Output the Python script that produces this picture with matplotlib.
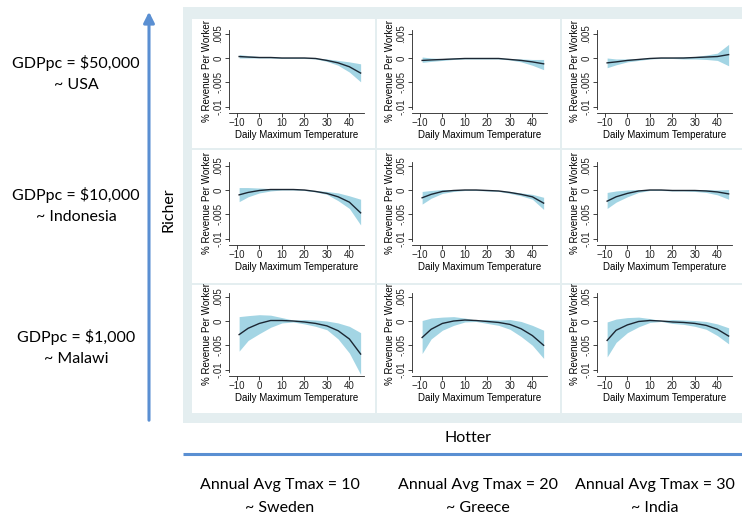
import matplotlib
matplotlib.use("Agg")
import matplotlib.pyplot as plt
from matplotlib.patches import Rectangle

W, H = 742, 514

# daily max temperature grid (deg C) for the fitted response curves
temp = [-9, -5, 0, 5, 10, 15, 20, 25, 30, 35, 40, 45]

# GDPpc $50,000 row
fit_50k_t10 = [.0003, .0002, .0001, .0001, 0, 0, 0, -.0001, -.0005, -.001, -.0018, -.0031]
hi_50k_t10 = [.0007, .0005, .0003, .0002, .0001, .0001, .0001, 0, -.0002, -.0005, -.0008, -.0012]
lo_50k_t10 = [0, 0, 0, 0, -.0001, -.0001, -.0001, -.0002, -.0007, -.0015, -.0029, -.0049]

fit_50k_t20 = [-.0005, -.0004, -.0003, -.0002, -.0001, -.0001, -.0001, -.0001, -.0003, -.0005, -.0008, -.0012]
hi_50k_t20 = [.0002, 0, -.0001, 0, 0, 0, 0, 0, -.0001, -.0002, -.0003, -.0003]
lo_50k_t20 = [-.0009, -.0007, -.0005, -.0003, -.0002, -.0002, -.0002, -.0002, -.0004, -.0008, -.0015, -.0024]

fit_50k_t30 = [-.001, -.0008, -.0005, -.0003, -.0001, 0, 0, 0, .0001, .0002, .0003, .0007]
hi_50k_t30 = [0, -.0002, -.0002, -.0001, 0, .0001, .0001, .0002, .0003, .0006, .001, .0028]
lo_50k_t30 = [-.002, -.0014, -.0008, -.0005, -.0002, -.0001, -.0001, -.0002, -.0002, -.0003, -.0005, -.0016]

# GDPpc $10,000 row
fit_10k_t10 = [-.001, -.0005, -.0001, .0001, .0001, .0001, 0, -.0003, -.0007, -.0014, -.0025, -.0047]
hi_10k_t10 = [.0005, .0005, .0004, .0003, .0002, .0001, .0001, -.0001, -.0003, -.0006, -.0012, -.0019]
lo_10k_t10 = [-.0024, -.0014, -.0006, -.0002, 0, 0, -.0001, -.0004, -.0009, -.0022, -.0038, -.0072]

fit_10k_t20 = [-.0016, -.0009, -.0003, -.0001, 0, 0, -.0001, -.0002, -.0005, -.0009, -.0014, -.0027]
hi_10k_t20 = [-.0003, -.0001, .0001, .0001, .0001, .0001, 0, -.0001, -.0003, -.0006, -.0009, -.0015]
lo_10k_t20 = [-.0029, -.0017, -.0007, -.0003, -.0001, -.0001, -.0002, -.0003, -.0007, -.0012, -.0019, -.004]

fit_10k_t30 = [-.0023, -.0014, -.0007, -.0002, 0, 0, -.0001, -.0001, -.0001, -.0002, -.0004, -.0008]
hi_10k_t30 = [-.0005, -.0002, 0, .0001, .0001, .0001, 0, 0, .0001, .0001, 0, .0001]
lo_10k_t30 = [-.0038, -.0025, -.0014, -.0005, -.0001, -.0001, -.0002, -.0002, -.0003, -.0005, -.001, -.0019]

# GDPpc $1,000 row
fit_1k_t10 = [-.0028, -.0015, -.0005, .0001, .0001, 0, -.0002, -.0005, -.001, -.002, -.0037, -.0068]
hi_1k_t10 = [.0009, .0011, .0013, .0012, .0007, .0002, .0003, .0002, 0, -.0004, -.0011, -.0024]
lo_1k_t10 = [-.0062, -.004, -.0026, -.0013, -.0004, -.0002, -.0006, -.0011, -.0018, -.0037, -.0066, -.011]

fit_1k_t20 = [-.0034, -.0017, -.0005, 0, .0002, .0001, -.0001, -.0003, -.0007, -.0016, -.003, -.005]
hi_1k_t20 = [.0001, .0006, .0008, .0009, .0006, .0002, .0003, .0002, .0003, -.0001, -.0009, -.0019]
lo_1k_t20 = [-.0067, -.0037, -.0019, -.0009, -.0002, -.0001, -.0005, -.0009, -.0017, -.0032, -.005, -.0077]

fit_1k_t30 = [-.004, -.0019, -.0008, -.0001, .0001, 0, -.0002, -.0003, -.0005, -.0009, -.0017, -.0031]
hi_1k_t30 = [-.0002, .0004, .0007, .0008, .0005, .0001, .0003, .0002, .0001, -.0001, -.0006, -.0014]
lo_1k_t30 = [-.0074, -.0044, -.0024, -.0012, -.0003, -.0001, -.0005, -.0007, -.0011, -.0017, -.003, -.0047]

gdp_levels = ["GDPpc = $50,000", "GDPpc = $10,000", "GDPpc = $1,000"]
gdp_countries = ["~ USA", "~ Indonesia", "~ Malawi"]
tmax_levels = ["Annual Avg Tmax = 10", "Annual Avg Tmax = 20", "Annual Avg Tmax = 30"]
tmax_countries = ["~ Sweden", "~ Greece", "~ India"]

xticks = [-10, 0, 10, 20, 30, 40]
yticks = [-.01, -.005, 0, .005]
ytick_labels = ["-.01", "-.005", "0", ".005"]

grid = [
    [(fit_50k_t10, lo_50k_t10, hi_50k_t10), (fit_50k_t20, lo_50k_t20, hi_50k_t20), (fit_50k_t30, lo_50k_t30, hi_50k_t30)],
    [(fit_10k_t10, lo_10k_t10, hi_10k_t10), (fit_10k_t20, lo_10k_t20, hi_10k_t20), (fit_10k_t30, lo_10k_t30, hi_10k_t30)],
    [(fit_1k_t10, lo_1k_t10, hi_1k_t10), (fit_1k_t20, lo_1k_t20, hi_1k_t20), (fit_1k_t30, lo_1k_t30, hi_1k_t30)],
]

ARROW_BLUE = "#5a8fd2"
BAND = "#a3d5e4"
LINE = "#1c2733"
BG = "#e4eef0"

fig = plt.figure(figsize=(W / 100, H / 100), dpi=100)

# full-figure canvas in pixel units for the backdrop, arrows and slide text
canvas = fig.add_axes([0, 0, 1, 1])
canvas.set_xlim(0, W)
canvas.set_ylim(H, 0)
canvas.axis("off")

canvas.add_patch(Rectangle((183, 7), W - 183, 416, facecolor=BG, edgecolor="none"))
col_edges = [(192, 375), (377, 560), (562, W + 5)]
row_edges = [(19, 148), (150, 283), (285, 413)]
for y0, y1 in row_edges:
    for x0, x1 in col_edges:
        canvas.add_patch(Rectangle((x0, y0), x1 - x0, y1 - y0, facecolor="white", edgecolor="none"))

canvas.annotate("", xy=(149, 9), xytext=(149, 423),
                arrowprops=dict(arrowstyle="-|>", color=ARROW_BLUE, lw=2.2, mutation_scale=16))
canvas.plot([183, W], [454, 454], color=ARROW_BLUE, lw=2.2, solid_capstyle="butt")

slide_font = "Lato"
for i, (lvl, ctry) in enumerate(zip(gdp_levels, gdp_countries)):
    y = [63, 195, 337][i]
    canvas.text(76, y, lvl, ha="center", va="center", fontsize=11.5, family=slide_font)
    canvas.text(76, y + 22, ctry, ha="center", va="center", fontsize=11.5, family=slide_font)
canvas.text(168, 210, "Richer", rotation=90, ha="center", va="center", fontsize=11.5, family=slide_font)
canvas.text(468, 438, "Hotter", ha="center", va="center", fontsize=11.5, family=slide_font)
for i, (lvl, ctry) in enumerate(zip(tmax_levels, tmax_countries)):
    x = [280, 478, 655][i]
    canvas.text(x, 485, lvl, ha="center", va="center", fontsize=11.5, family=slide_font)
    canvas.text(x, 508, ctry, ha="center", va="center", fontsize=11.5, family=slide_font)

# stata-style response panels
plt.rcParams["font.family"] = ["Liberation Sans", "DejaVu Sans"]
axes_left = [229, 412, 597]
zero_y = [58, 190, 321]
px_per_unit = 24.3 / 0.005
ymin, ymax = -0.0113, 0.0058
xmin, xmax = -13.5, 46.5
ax_w = 135
ax_h = (ymax - ymin) * px_per_unit

for r in range(3):
    for c in range(3):
        fit, lo, hi = grid[r][c]
        top = zero_y[r] - ymax * px_per_unit
        ax = fig.add_axes([axes_left[c] / W, (H - top - ax_h) / H, ax_w / W, ax_h / H])
        ax.set_facecolor("none")
        ax.fill_between(temp, lo, hi, color=BAND, lw=0)
        ax.plot(temp, fit, color=LINE, lw=1.0)
        ax.set_xlim(xmin, xmax)
        ax.set_ylim(ymin, ymax)
        ax.set_xticks(xticks)
        ax.set_yticks(yticks)
        ax.set_yticklabels(ytick_labels, rotation=90, va="center")
        ax.tick_params(length=3, width=0.6, pad=1, labelsize=7, colors="#222222")
        for side in ["top", "right"]:
            ax.spines[side].set_visible(False)
        for side in ["left", "bottom"]:
            ax.spines[side].set_linewidth(0.6)
            ax.spines[side].set_color("#222222")
        ax.spines["left"].set_bounds(-0.0105, ymax)
        ax.set_xlabel("Daily Maximum Temperature", fontsize=7, labelpad=1)
        ax.set_ylabel("% Revenue Per Worker", fontsize=7, labelpad=1)

fig.savefig("out.png", dpi=100)
